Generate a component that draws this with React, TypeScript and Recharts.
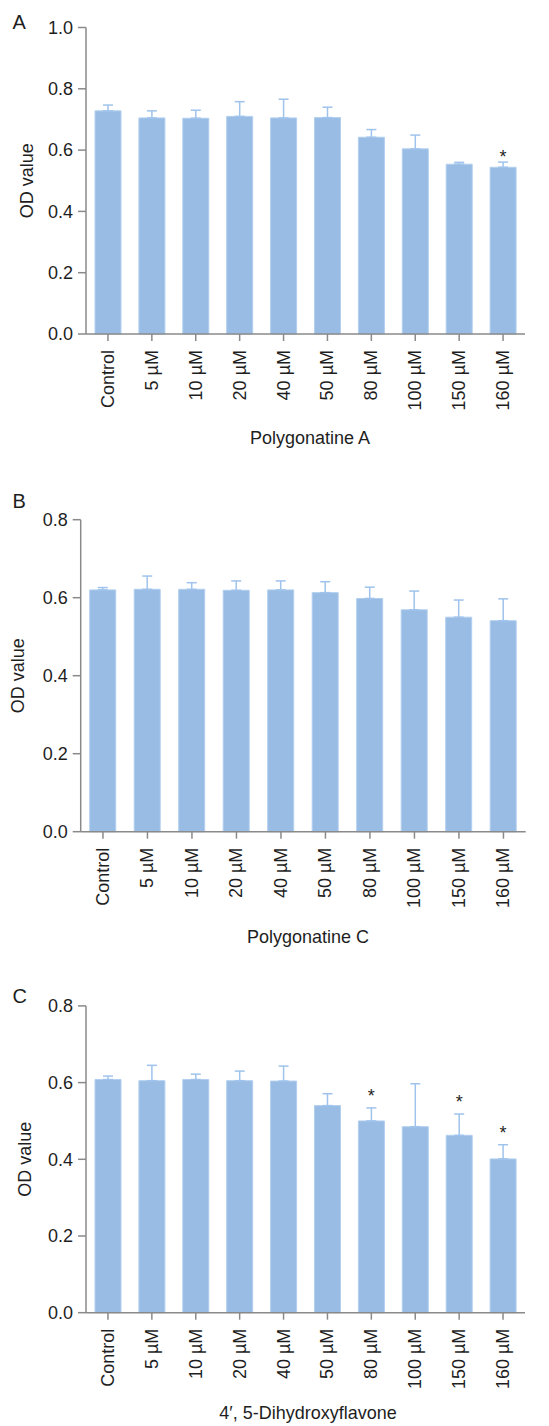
import React from 'react';
import { ComposedChart, Bar, XAxis, YAxis, ErrorBar, Scatter } from 'recharts';

const categories = ['Control', '5 µM', '10 µM', '20 µM', '40 µM', '50 µM', '80 µM', '100 µM', '150 µM', '160 µM'];

const meansA = [0.728, 0.705, 0.704, 0.710, 0.705, 0.706, 0.642, 0.604, 0.554, 0.544];
const errA = [0.019, 0.023, 0.026, 0.048, 0.061, 0.034, 0.025, 0.045, 0.006, 0.017];
const sigA = [false, false, false, false, false, false, false, false, false, true];

const meansB = [0.620, 0.6215, 0.6215, 0.619, 0.620, 0.613, 0.598, 0.569, 0.550, 0.541];
const errB = [0.006, 0.034, 0.017, 0.024, 0.023, 0.028, 0.029, 0.048, 0.044, 0.056];
const sigB = [false, false, false, false, false, false, false, false, false, false];

const meansC = [0.608, 0.605, 0.608, 0.605, 0.604, 0.540, 0.500, 0.485, 0.4625, 0.401];
const errC = [0.009, 0.040, 0.014, 0.025, 0.039, 0.031, 0.034, 0.112, 0.0555, 0.037];
const sigC = [false, false, false, false, false, false, true, false, true, true];

const ticksA = [0, 0.2, 0.4, 0.6, 0.8, 1.0];
const ticksBC = [0, 0.2, 0.4, 0.6, 0.8];

const titleA = 'Polygonatine A';
const titleB = 'Polygonatine C';
const titleC = '4′, 5-Dihydroxyflavone';

const FONT = '"Liberation Sans", Arial, Helvetica, sans-serif';
const AXIS = '#8a8a8a';
const BAR = '#98bce4';
const ERR = '#9fc3ec';
const TXT = '#1e1e1e';

function buildData(means: number[], errs: number[], sig: boolean[]) {
  return categories.map((name, i) => ({
    name,
    mean: means[i],
    err: [0, errs[i]],
    star: sig[i] ? means[i] + errs[i] : null,
  }));
}

const RotTick = (props: any) => {
  const { x, y, payload } = props;
  return (
    <g transform={`translate(${x},${y})`}>
      <text transform="rotate(-90)" textAnchor="end" dy="0.33em" fontSize={18} fill={TXT} fontFamily={FONT}>
        {payload.value}
      </text>
    </g>
  );
};

interface PanelProps {
  top: number;
  data: any[];
  ticks: number[];
  yWidth: number;
  right: number;
  marginTop: number;
  plotBottom: number;
  xHeight: number;
  title: string;
  titleX: number;
  titleDy: number;
  odX: number;
  starDy: number;
  letter: string;
  letterTop: number;
}

function Panel(p: PanelProps) {
  const height = p.plotBottom + p.xHeight;
  const maxV = p.ticks[p.ticks.length - 1];
  const StarShape = (sp: any) => {
    const { cx, cy, payload } = sp;
    if (payload == null || payload.star == null || cx == null || cy == null) return null;
    return (
      <text x={cx} y={cy - p.starDy + 10} textAnchor="middle" fontSize={18} fill={TXT} fontFamily={FONT}>
        *
      </text>
    );
  };
  const OdLabel = (lp: any) => {
    const vb = lp.viewBox || {};
    const cy = (vb.y || 0) + (vb.height || 0) / 2;
    const cx = p.odX;
    return (
      <text
        x={cx}
        y={cy}
        transform={`rotate(-90, ${cx}, ${cy})`}
        textAnchor="middle"
        dy="0.35em"
        fontSize={18}
        fill={TXT}
        fontFamily={FONT}
      >
        OD value
      </text>
    );
  };
  const XTitle = (lp: any) => {
    const vb = lp.viewBox || {};
    return (
      <text x={p.titleX} y={(vb.y || 0) + p.titleDy} textAnchor="middle" fontSize={18} fill={TXT} fontFamily={FONT}>
        {p.title}
      </text>
    );
  };
  return (
    <>
      <div
        style={{
          position: 'absolute',
          left: 12.5,
          top: p.letterTop,
          fontSize: 20,
          lineHeight: 1,
          fontFamily: FONT,
          color: TXT,
        }}
      >
        {p.letter}
      </div>
      <div style={{ position: 'absolute', left: 0, top: p.top, width: 549, height }}>
        <ComposedChart
          width={549}
          height={height}
          data={p.data}
          margin={{ top: p.marginTop, right: p.right, left: 0, bottom: 0 }}
          barCategoryGap={0}
        >
          <XAxis
            dataKey="name"
            type="category"
            interval={0}
            height={p.xHeight}
            tick={<RotTick />}
            tickSize={7}
            tickMargin={9}
            axisLine={{ stroke: AXIS, strokeWidth: 1.5 }}
            tickLine={{ stroke: AXIS, strokeWidth: 1.5 }}
            label={<XTitle />}
          />
          <YAxis
            type="number"
            domain={[0, maxV]}
            ticks={p.ticks}
            interval={0}
            width={p.yWidth}
            tickFormatter={(v: number) => v.toFixed(1)}
            tick={{ fontSize: 18, fill: TXT, fontFamily: FONT }}
            tickSize={8}
            tickMargin={5}
            axisLine={{ stroke: AXIS, strokeWidth: 1.5 }}
            tickLine={{ stroke: AXIS, strokeWidth: 1.5 }}
            label={<OdLabel />}
          />
          <Bar dataKey="mean" fill={BAR} stroke="#b2cfef" strokeWidth={1} barSize={26} isAnimationActive={false}>
            <ErrorBar dataKey="err" width={5} stroke={ERR} strokeWidth={1.5} direction="y" isAnimationActive={false} />
          </Bar>
          <Scatter dataKey="star" shape={StarShape} isAnimationActive={false} />
        </ComposedChart>
      </div>
    </>
  );
}

export default function App() {
  const dataA = buildData(meansA, errA, sigA);
  const dataB = buildData(meansB, errB, sigB);
  const dataC = buildData(meansC, errC, sigC);
  return (
    <div style={{ position: 'absolute', left: 0, top: 0, width: 549, height: 1426, background: '#ffffff', fontFamily: FONT }}>
      <Panel
        top={0}
        data={dataA}
        ticks={ticksA}
        yWidth={86}
        right={24}
        marginTop={27.5}
        plotBottom={334}
        xHeight={118}
        title={titleA}
        titleX={310}
        titleDy={110}
        odX={27}
        starDy={9.3}
        letter="A"
        letterTop={12}
      />
      <Panel
        top={470}
        data={dataB}
        ticks={ticksBC}
        yWidth={80.7}
        right={23.3}
        marginTop={49.7}
        plotBottom={361.7}
        xHeight={118}
        title={titleB}
        titleX={308}
        titleDy={111}
        odX={17.5}
        starDy={9}
        letter="B"
        letterTop={491}
      />
      <Panel
        top={955}
        data={dataC}
        ticks={ticksBC}
        yWidth={86}
        right={24}
        marginTop={50.9}
        plotBottom={357.7}
        xHeight={112}
        title={titleC}
        titleX={308}
        titleDy={106}
        odX={24.5}
        starDy={15.7}
        letter="C"
        letterTop={986}
      />
    </div>
  );
}
